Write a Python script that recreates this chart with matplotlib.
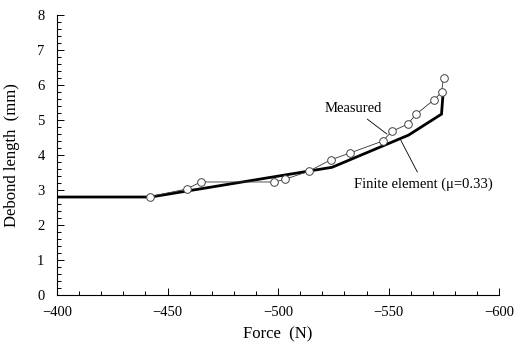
import numpy as np
import matplotlib
matplotlib.use("Agg")
import matplotlib.pyplot as plt
from matplotlib.ticker import MultipleLocator

plt.rcParams["font.family"] = ["Liberation Serif", "DejaVu Serif"]

# measured debond length (open circles)
meas_force = [-441.9, -458.7, -465.0, -498.1, -503.3, -514.0, -523.7, -532.6,
              -547.3, -551.5, -558.6, -562.3, -570.3, -573.9, -574.8]
meas_len = [2.81, 3.03, 3.23, 3.23, 3.31, 3.54, 3.86, 4.06,
            4.40, 4.68, 4.88, 5.16, 5.57, 5.79, 6.21]

# finite element prediction (thick line)
fe_force = [-400, -442.3, -524.4, -559.0, -573.9, -574.5]
fe_len = [2.8, 2.8, 3.65, 4.57, 5.17, 5.68]

fig = plt.figure(figsize=(5.16, 3.43), dpi=100)
ax = fig.add_axes([0.1105, 0.14, 0.857, 0.816])

ax.plot(fe_force, fe_len, color="black", lw=2.0, solid_joinstyle="miter")
ax.plot(meas_force, meas_len, color="#333333", lw=0.6, marker="o", ms=5.5,
        mfc="white", mec="#444444", mew=0.7)

ax.set_xlim(-400, -600)
ax.set_ylim(0, 8)
ax.xaxis.set_major_locator(MultipleLocator(50))
ax.xaxis.set_minor_locator(MultipleLocator(10))
ax.yaxis.set_major_locator(MultipleLocator(1))
ax.yaxis.set_minor_locator(MultipleLocator(0.2))
ax.tick_params(which="both", direction="in", labelsize=10.5, width=0.7)
ax.tick_params(which="major", length=5)
ax.tick_params(which="minor", length=3)
ax.tick_params(axis="x", pad=8)
ax.tick_params(axis="y", pad=9)
for s in ["top", "right"]:
    ax.spines[s].set_visible(False)
for s in ["left", "bottom"]:
    ax.spines[s].set_linewidth(0.8)

ax.set_xlabel("Force  (N)", fontsize=12, labelpad=5)
ax.set_ylabel("Debond length  (mm)", fontsize=12, labelpad=12)

ax.annotate("Measured", xy=(-549.2, 4.6), xytext=(-533.8, 5.34),
            fontsize=10.5, ha="center", va="center",
            arrowprops=dict(arrowstyle="-", lw=0.6, color="black",
                            shrinkA=2, shrinkB=0))
ax.annotate("Finite element (\u03bc=0.33)", xy=(-555.5, 4.42), xytext=(-565.8, 3.17),
            fontsize=10.5, ha="center", va="center",
            arrowprops=dict(arrowstyle="-", lw=0.6, color="black",
                            shrinkA=2, shrinkB=0))

fig.savefig("out.png", dpi=100)
